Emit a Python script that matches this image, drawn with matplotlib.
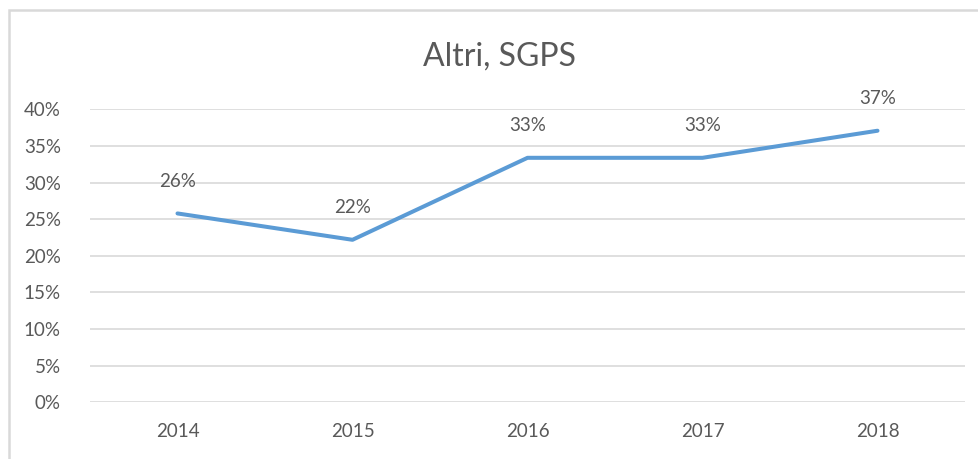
import matplotlib.pyplot as plt
from matplotlib.patches import Rectangle
from matplotlib.ticker import PercentFormatter

years = ['2014', '2015', '2016', '2017', '2018']
values = [0.258, 0.222, 0.334, 0.334, 0.371]
labels = ['26%', '22%', '33%', '33%', '37%']
title = 'Altri, SGPS'

plt.rcParams['font.family'] = ['Lato', 'DejaVu Sans']
grey = '#595959'

W, H = 979, 459
fig = plt.figure(figsize=(W / 100, H / 100), dpi=100)
ax = fig.add_axes([90 / W, (H - 402.3) / H, 875 / W, 292.8 / H])

x = range(len(years))
ax.plot(x, values, color='#5B9BD5', lw=2.9, solid_capstyle='round', solid_joinstyle='round', zorder=3)
for i, (v, t) in enumerate(zip(values, labels)):
    ax.annotate(t, (i, v), xytext=(0, 23), textcoords='offset points',
                ha='center', va='center', fontsize=13.5, color=grey)

ax.set_xlim(-0.5, len(years) - 0.5)
ax.set_ylim(0, 0.40)
ax.set_yticks([i * 0.05 for i in range(9)])
ax.yaxis.set_major_formatter(PercentFormatter(1.0, decimals=0))
ax.set_xticks(list(x))
ax.set_xticklabels(years)
ax.tick_params(length=0, labelsize=13.5, labelcolor=grey)
ax.tick_params(axis='y', pad=21)
ax.tick_params(axis='x', pad=15)
ax.grid(axis='y', color='#D9D9D9', lw=1.2)
ax.set_axisbelow(True)
for s in ax.spines.values():
    s.set_visible(False)

fig.text(500 / W, 1 - 57 / H, title, ha='center', va='center', fontsize=23, color=grey)

fig.patches.append(Rectangle((9 / W, -0.1), 1.2, 1 - 10 / H + 0.1, transform=fig.transFigure,
                             fill=False, edgecolor='#D9D9D9', lw=1.8))

fig.savefig('out.png', dpi=100)
